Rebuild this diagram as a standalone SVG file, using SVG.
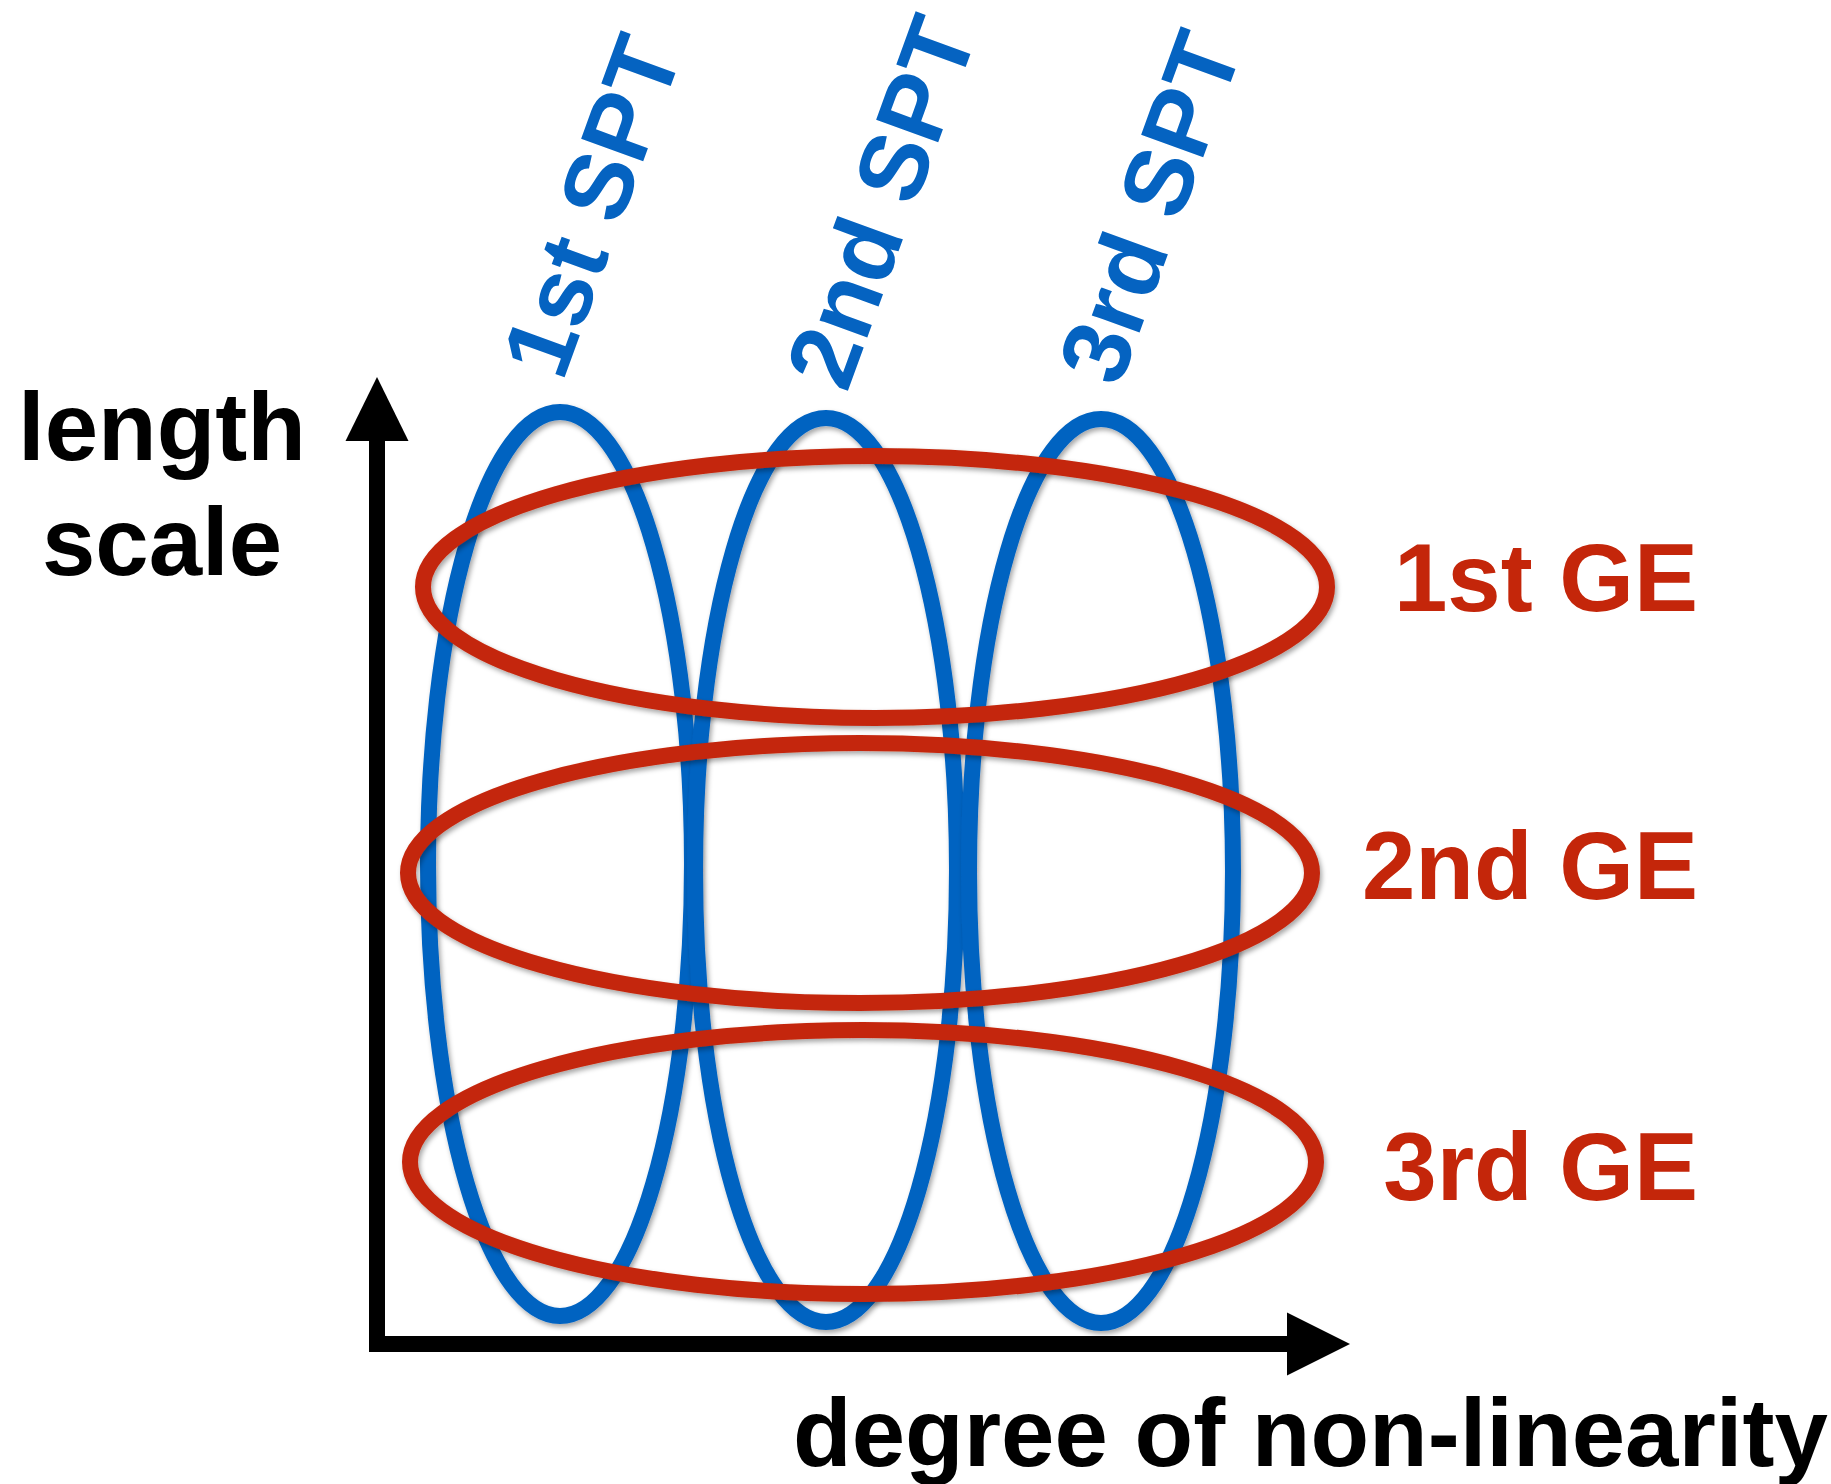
<svg xmlns="http://www.w3.org/2000/svg" width="1831" height="1484" viewBox="0 0 1831 1484">
  <style>
    .lbl { font-family: "Liberation Sans", Arial, Helvetica, sans-serif; font-weight: bold; font-size: 96px; }
    .blue { fill: none; stroke: #0563C1; stroke-width: 16; filter: url(#sh); }
    .red { fill: none; stroke: #C4260A; stroke-width: 16; filter: url(#sh); }
    .btxt { fill: #0563C1; }
    .rtxt { fill: #C4260A; }
    .ktxt { fill: #000000; }
    .axis { fill: none; stroke: #000000; stroke-width: 16; stroke-linejoin: miter; }
  </style>
  <defs>
    <filter id="sh" x="-10%" y="-10%" width="120%" height="120%">
      <feDropShadow dx="2" dy="3" stdDeviation="2.5" flood-color="#000000" flood-opacity="0.35"/>
    </filter>
  </defs>
  <rect width="1831" height="1484" fill="#ffffff"/>

  <g id="connectors">
    <g id="axes">
      <path class="axis" d="M377,436 V1344 H1292"/>
      <polygon points="377,377 345.5,441 408.5,441" fill="#000000"/>
      <polygon points="1350,1344 1287,1312.5 1287,1375.5" fill="#000000"/>
    </g>
  </g>

  <g id="axis-labels">
    <g id="y-label">
      <text class="lbl ktxt" x="162" y="460" text-anchor="middle">length</text>
      <text class="lbl ktxt" x="162" y="575" text-anchor="middle">scale</text>
    </g>
    <g id="x-label">
      <text class="lbl ktxt" x="793" y="1466">degree of non-linearity</text>
    </g>
  </g>

  <g id="spt1">
    <ellipse class="blue" cx="560" cy="864" rx="132" ry="452"/>
    <text class="lbl btxt" text-anchor="end" transform="translate(683,52) rotate(-70)">1st SPT</text>
  </g>
  <g id="spt2">
    <ellipse class="blue" cx="826" cy="870" rx="131" ry="452"/>
    <text class="lbl btxt" text-anchor="end" transform="translate(978,33) rotate(-70)">2nd SPT</text>
  </g>
  <g id="spt3">
    <ellipse class="blue" cx="1101" cy="871" rx="132" ry="452"/>
    <text class="lbl btxt" text-anchor="end" transform="translate(1243,48) rotate(-70)">3rd SPT</text>
  </g>

  <g id="ge1">
    <ellipse class="red" cx="875" cy="587" rx="452" ry="131"/>
    <text class="lbl rtxt" x="1698" y="611" text-anchor="end">1st GE</text>
  </g>
  <g id="ge2">
    <ellipse class="red" cx="860" cy="873" rx="452" ry="130"/>
    <text class="lbl rtxt" x="1698" y="899" text-anchor="end">2nd GE</text>
  </g>
  <g id="ge3">
    <ellipse class="red" cx="863" cy="1162" rx="453" ry="132"/>
    <text class="lbl rtxt" x="1698" y="1200" text-anchor="end">3rd GE</text>
  </g>
</svg>
